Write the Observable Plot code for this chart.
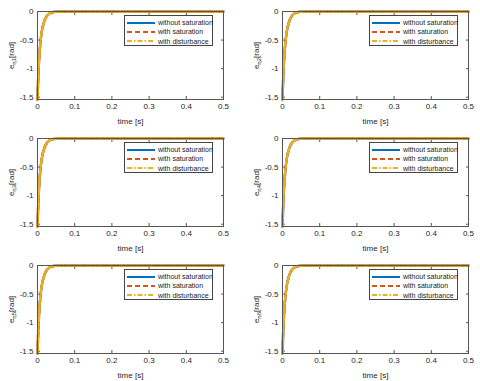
<!DOCTYPE html>
<html><head><meta charset="utf-8">
<script src="https://cdn.jsdelivr.net/npm/d3@7"></script>
<script src="https://cdn.jsdelivr.net/npm/@observablehq/plot@0.6"></script>
<style>
body{margin:0;background:#fff;}
#fig{position:relative;width:480px;height:381px;font-family:"Liberation Sans",Arial,sans-serif;}
.panel{position:absolute;width:240px;height:127px;}
.legend{position:absolute;left:124px;top:15px;width:89px;height:31px;border:1px solid #444;background:#fff;box-sizing:border-box;font-size:7px;color:#1a1a1a;}
.legend .row{position:absolute;left:2px;height:9px;display:flex;align-items:center;white-space:nowrap;}
.legend svg{margin-right:3px;}
</style></head>
<body><div id="fig"></div>
<script>
// time samples [s]
const time = [0, 0.002, 0.004, 0.006, 0.008, 0.01, 0.013, 0.016, 0.02, 0.025, 0.03, 0.035, 0.04, 0.05, 0.06, 0.1, 0.2, 0.3, 0.4, 0.5];
// tracking error [rad] for each case (curves overlap in every panel)
const withoutSaturation = [-1.54, -1.15, -0.88, -0.68, -0.53, -0.42, -0.30, -0.22, -0.14, -0.08, -0.045, -0.025, -0.013, -0.004, -0.001, 0, 0, 0, 0, 0];
const withSaturation    = [-1.54, -1.15, -0.88, -0.68, -0.53, -0.42, -0.30, -0.22, -0.14, -0.08, -0.045, -0.025, -0.013, -0.004, -0.001, 0, 0, 0, 0, 0];
const withDisturbance   = [-1.54, -1.15, -0.88, -0.68, -0.53, -0.42, -0.30, -0.22, -0.14, -0.08, -0.045, -0.025, -0.013, -0.004, -0.001, 0, 0, 0, 0, 0];
const seriesNames = ["without saturation", "with saturation", "with disturbance"];
const seriesColors = ["#0072BD", "#D95319", "#EDB120"];
const seriesDash = [null, "5,3", "5,2,1.5,2"];
const panelSubs = ["η1", "η2", "η3", "η4", "η5", "η6"];
const xTicks = [0, 0.1, 0.2, 0.3, 0.4, 0.5];
const yTicks = [0, -0.5, -1, -1.5];

const seriesValues = [withoutSaturation, withSaturation, withDisturbance];
const data = seriesNames.map((name, k) => time.map((t, i) => ({t, v: seriesValues[k][i], name})));

const fig = document.getElementById("fig");
panelSubs.forEach((sub, p) => {
  const col = p % 2, row = Math.floor(p / 2);
  const div = document.createElement("div");
  div.className = "panel";
  div.style.left = (col * 245) + "px";
  div.style.top = (row * 127) + "px";
  const chart = Plot.plot({
    width: 240, height: 127,
    marginLeft: 37, marginRight: 17, marginTop: 11, marginBottom: 28,
    style: {fontFamily: '"Liberation Sans", Arial, sans-serif', fontSize: "8px", color: "#262626", background: "transparent"},
    x: {domain: [0, 0.5]},
    y: {domain: [-1.54, 0]},
    marks: [
      Plot.axisX({ticks: xTicks, tickFormat: d => String(d), tickSize: -3, tickPadding: 7, stroke: "#555",
                  label: "time [s]", labelAnchor: "center", labelOffset: 24, labelArrow: "none"}),
      Plot.axisX({anchor: "top", ticks: xTicks, tickFormat: () => "", tickSize: -3, stroke: "#555", label: null}),
      Plot.axisY({ticks: yTicks, tickFormat: d => String(d), tickSize: -3, tickPadding: 7, stroke: "#555",
                  label: "e" + sub + "[rad]", labelAnchor: "center", labelOffset: 29, labelArrow: "none"}),
      Plot.axisY({anchor: "right", ticks: yTicks, tickFormat: () => "", tickSize: -3, stroke: "#555", label: null}),
      ...data.map((d, k) => Plot.line(d, {x: "t", y: "v", stroke: seriesColors[k], strokeWidth: 2.4,
                  strokeDasharray: seriesDash[k], curve: "monotone-x"})),
      Plot.frame({stroke: "#555", strokeWidth: 1})
    ]
  });
  // subscript in the y label
  const lab = chart.querySelector('[aria-label="y-axis label"] text');
  if (lab) {
    lab.textContent = "";
    const ns = "http://www.w3.org/2000/svg";
    const a = document.createElementNS(ns, "tspan"); a.textContent = "e"; lab.appendChild(a);
    const b = document.createElementNS(ns, "tspan"); b.textContent = sub; b.setAttribute("font-size", "6px"); b.setAttribute("dy", "2"); lab.appendChild(b);
    const c = document.createElementNS(ns, "tspan"); c.textContent = "[rad]"; c.setAttribute("dy", "-2"); lab.appendChild(c);
  }
  div.appendChild(chart);
  const leg = document.createElement("div");
  leg.className = "legend";
  seriesNames.forEach((name, k) => {
    const r = document.createElement("div");
    r.className = "row";
    r.style.top = (2 + k * 9.3) + "px";
    r.innerHTML = `<svg width="28" height="4"><line x1="0" y1="2" x2="28" y2="2" stroke="${seriesColors[k]}" stroke-width="2" ${seriesDash[k] ? `stroke-dasharray="${seriesDash[k]}"` : ""}/></svg><span>${name}</span>`;
    leg.appendChild(r);
  });
  div.appendChild(leg);
  fig.appendChild(div);
});
</script></body></html>
